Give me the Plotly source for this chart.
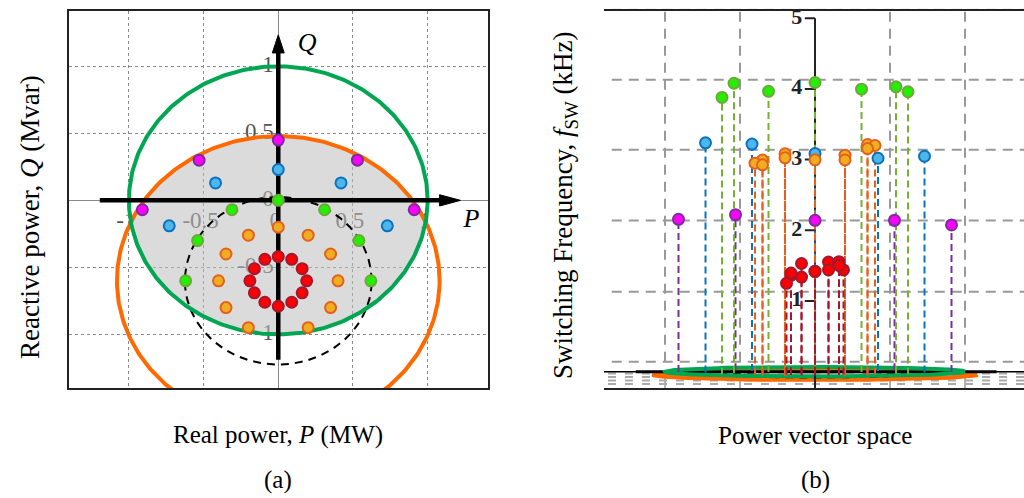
import numpy as np
import plotly.graph_objects as go

W, H = 1024, 498
SERIF = "Liberation Serif"

# ---------------- operating points (P in MW, Q in Mvar, switching frequency in kHz)
MAG_P = [-0.91, -0.53, 0.0, 0.53, 0.91]
MAG_Q = [-0.07, 0.30, 0.45, 0.30, -0.07]
MAG_F = [2.16, 2.20, 2.11, 2.12, 2.08]

BLUE_P = [-0.73, -0.42, 0.0, 0.42, 0.73]
BLUE_Q = [-0.19, 0.13, 0.23, 0.13, -0.19]
BLUE_F = [3.25, 3.21, 3.07, 3.01, 3.06]

GREEN_P = [-0.62, -0.54, -0.31, 0.0, 0.31, 0.54, 0.62]
GREEN_Q = [-0.60, -0.30, -0.07, 0.0, -0.07, -0.30, -0.60]
GREEN_F = [3.92, 4.10, 3.97, 4.09, 4.00, 4.05, 4.00]

ORANGE_P = [0.0, -0.2, 0.2, -0.35, 0.35, -0.4, 0.4, -0.35, 0.35, -0.2, 0.2]
ORANGE_Q = [-0.20, -0.26, -0.26, -0.40, -0.40, -0.60, -0.60, -0.80, -0.80, -0.95, -0.95]
ORANGE_F = [3.01, 3.10, 3.08, 3.02, 3.24, 2.99, 3.24, 2.98, 3.21, 3.09, 3.06]

RED_P = [0.0, 0.09, 0.16, 0.19, 0.16, 0.09, 0.0, -0.09, -0.16, -0.19, -0.16, -0.09]
RED_Q = [-0.42, -0.44, -0.51, -0.60, -0.69, -0.76, -0.79, -0.76, -0.69, -0.60, -0.51, -0.44]
RED_F = [1.45, 1.58, 1.59, 1.48, 1.55, 1.49, 1.47, 1.39, 1.41, 1.29, 1.43, 1.56]

# capability boundaries: (centre P, centre Q, radius)
GREEN_CIRCLE = (0.0, 0.0, 1.0)
ORANGE_CIRCLE = (0.0, -0.6, 1.08)
DASHED_CIRCLE = (0.0, -0.6, 0.625)

TICKS = [-1, -0.5, 0, 0.5, 1]
TICK_TEXT = ["-1", "-0.5", "0", "0.5", "1"]
F_TICKS = [1, 2, 3, 4, 5]
BACK_GRID = [0.14, 1.13, 2.14, 3.14, 4.13, 5.12]
SIDE_GRID = [-1.0, -0.5, 0.5, 1.0]
FLOOR_ROWS = [-0.025, -0.075, -0.125, -0.175]

TILT = 0.068  # vertical shift of the floor per unit Q in the power-vector view

GROUPS = [
    # P, Q, f, fill, edge, stem colour
    (MAG_P, MAG_Q, MAG_F, "#FF00FF", "#7A2E9A", "#7A2E9A"),
    (BLUE_P, BLUE_Q, BLUE_F, "#4DB6EA", "#0A72BE", "#0A72BE"),
    (GREEN_P, GREEN_Q, GREEN_F, "#22F000", "#6EA83A", "#76B032"),
    (ORANGE_P, ORANGE_Q, ORANGE_F, "#EFAE22", "#E4601C", "#E4601C"),
    (RED_P, RED_Q, RED_F, "#FF0000", "#A3182E", "#A3182E"),
]

GREEN_LINE = "#00A651"
ORANGE_LINE = "#FF6A00"


def circle(c, n=361):
    cx, cy, r = c
    t = np.linspace(0, 2 * np.pi, n)
    return cx + r * np.cos(t), cy + r * np.sin(t)


def inside(x, y, c):
    cx, cy, r = c
    return (x - cx) ** 2 + (y - cy) ** 2 <= r ** 2 + 1e-12


# overlap of the two capability discs
gx, gy = circle(GREEN_CIRCLE)
ox, oy = circle(ORANGE_CIRCLE)
ix = np.concatenate([ox[inside(ox, oy, GREEN_CIRCLE)], gx[inside(gx, gy, ORANGE_CIRCLE)]])
iy = np.concatenate([oy[inside(ox, oy, GREEN_CIRCLE)], gy[inside(gx, gy, ORANGE_CIRCLE)]])
order = np.argsort(np.arctan2(iy + 0.3, ix))
ix, iy = ix[order], iy[order]
ix = np.append(ix, ix[0])
iy = np.append(iy, iy[0])
dx, dy = circle(DASHED_CIRCLE)

fig = go.Figure()

# ======================= (a) PQ plane =======================
A = dict(xaxis="x", yaxis="y")
tick_font = dict(family=SERIF, size=23, color="#555")
fig.add_trace(go.Scatter(x=[t - 0.02 for t in TICKS], y=[-0.16] * 5, mode="text", text=TICK_TEXT,
                         textposition="middle center", textfont=tick_font, hoverinfo="skip", **A))
fig.add_trace(go.Scatter(x=[-0.03] * 5, y=TICKS, mode="text", text=TICK_TEXT, textposition="middle left",
                         textfont=tick_font, hoverinfo="skip", **A))
fig.add_trace(go.Scatter(x=ix, y=iy, mode="lines", fill="toself", fillcolor="rgba(190,190,190,0.55)",
                         line=dict(width=0), hoverinfo="skip", **A))
fig.add_trace(go.Scatter(x=dx, y=dy, mode="lines", line=dict(color="black", width=2, dash="8px,6px"), **A))
fig.add_trace(go.Scatter(x=ox, y=oy, mode="lines", line=dict(color=ORANGE_LINE, width=4), **A))
fig.add_trace(go.Scatter(x=gx, y=gy, mode="lines", line=dict(color=GREEN_LINE, width=4), **A))

# coordinate arrows
P_AX = (-1.195, 1.08, 1.22)   # start, arrow base, arrow tip
Q_AX = (-1.19, 1.10, 1.235)
fig.add_trace(go.Scatter(x=[P_AX[0], P_AX[1]], y=[0, 0], mode="lines", line=dict(color="black", width=4.5), **A))
fig.add_trace(go.Scatter(x=[0, 0], y=[Q_AX[0], Q_AX[1]], mode="lines", line=dict(color="black", width=4.5), **A))
fig.add_trace(go.Scatter(x=[P_AX[1], P_AX[2], P_AX[1], P_AX[1]], y=[0.042, 0, -0.042, 0.042], mode="lines",
                         fill="toself", fillcolor="black", line=dict(color="black", width=1), **A))
fig.add_trace(go.Scatter(x=[-0.04, 0, 0.04, -0.04], y=[Q_AX[1], Q_AX[2], Q_AX[1], Q_AX[1]], mode="lines",
                         fill="toself", fillcolor="black", line=dict(color="black", width=1), **A))

for p, q, f, fill, edge, stem in GROUPS:
    fig.add_trace(go.Scatter(x=p, y=q, mode="markers",
                             marker=dict(size=11, color=fill, line=dict(color=edge, width=2)), **A))

fig.add_trace(go.Scatter(x=[1.24, 0.13], y=[-0.15, 1.16], mode="text", text=["<i>P</i>", "<i>Q</i>"],
                         textposition="middle right", textfont=dict(family=SERIF, size=26, color="black"), **A))

# ======================= (b) power vector space =======================
B = dict(xaxis="x2", yaxis="y2")
fig.add_trace(go.Scatter(x=ix, y=TILT * iy, mode="lines", fill="toself", fillcolor="rgba(190,190,190,0.55)",
                         line=dict(width=0), hoverinfo="skip", **B))
fig.add_trace(go.Scatter(x=ox, y=TILT * oy, mode="lines", line=dict(color=ORANGE_LINE, width=4.5), **B))
fig.add_trace(go.Scatter(x=dx, y=TILT * dy, mode="lines", line=dict(color="black", width=2, dash="8px,6px"), **B))
fig.add_trace(go.Scatter(x=[P_AX[0], 1.21], y=[0, 0], mode="lines", line=dict(color="black", width=3), **B))
fig.add_trace(go.Scatter(x=gx, y=TILT * gy, mode="lines", line=dict(color=GREEN_LINE, width=4), **B))

# frequency axis with ticks
fig.add_trace(go.Scatter(x=[0, 0], y=[-0.3, 5], mode="lines", line=dict(color="#222", width=2), **B))
tx, ty = [], []
for v in F_TICKS:
    tx += [-0.068, 0, None]
    ty += [v, v, None]
fig.add_trace(go.Scatter(x=tx, y=ty, mode="lines", line=dict(color="#222", width=2), **B))
fig.add_trace(go.Scatter(x=[-0.085] * 5, y=F_TICKS, mode="text", text=[f"<b>{v}</b>" for v in F_TICKS],
                         textposition="middle left",
                         textfont=dict(family=SERIF, size=22, color="#222"), **B))

for p, q, f, fill, edge, stem in GROUPS:
    sx, sy = [], []
    for pi, qi, fi in zip(p, q, f):
        sx += [pi, pi, None]
        sy += [TILT * qi, fi + TILT * qi, None]
    fig.add_trace(go.Scatter(x=sx, y=sy, mode="lines", line=dict(color=stem, width=2, dash="7px,4px"), **B))
for p, q, f, fill, edge, stem in GROUPS:
    fig.add_trace(go.Scatter(x=p, y=[fi + TILT * qi for qi, fi in zip(q, f)], mode="markers",
                             marker=dict(size=11, color=fill, line=dict(color=edge, width=2)), **B))

# back-wall / floor grid of the 3-D view
shapes = []
for g in BACK_GRID:
    shapes.append(dict(type="line", xref="x2", yref="y2", x0=-1.355, x1=1.4, y0=g, y1=g, layer="below",
                       line=dict(color="#999", width=2, dash="10px,7px")))
for s in SIDE_GRID:
    shapes.append(dict(type="line", xref="x2", yref="y2", x0=s, x1=s, y0=BACK_GRID[0], y1=BACK_GRID[-1],
                       layer="below", line=dict(color="#999", width=2, dash="10px,7px")))
    shapes.append(dict(type="line", xref="x2", yref="y2", x0=s, x1=s, y0=-0.25, y1=0, layer="below",
                       line=dict(color="#999", width=1.5)))
for r in FLOOR_ROWS:
    shapes.append(dict(type="line", xref="x2", yref="y2", x0=-1.38, x1=1.4, y0=r, y1=r, layer="below",
                       line=dict(color="#aaa", width=2, dash="8px,9px")))
shapes.append(dict(type="line", xref="x2", yref="y2", x0=-1.41, x1=1.4, y0=0, y1=0, layer="below",
                   line=dict(color="black", width=1.5)))

ann = [
    dict(x=278 / W, y=1 - 435 / H, text="Real power, <i>P</i> (MW)", size=25),
    dict(x=815 / W, y=1 - 435 / H, text="Power vector space", size=25),
    dict(x=278 / W, y=1 - 480 / H, text="(a)", size=25),
    dict(x=815 / W, y=1 - 480 / H, text="(b)", size=25),
    dict(x=30 / W, y=1 - 217 / H, text="Reactive power, <i>Q</i> (Mvar)", textangle=-90, size=27),
    dict(x=565 / W, y=1 - 205 / H, text="Switching Frequency, <i>f</i><sub>SW</sub> (kHz)", textangle=-90,
         size=27),
]
for a in ann:
    size = a.pop("size")
    a.update(xref="paper", yref="paper", showarrow=False, xanchor="center", yanchor="middle",
             font=dict(family=SERIF, size=size, color="black"))

fig.update_layout(
    width=W, height=H, margin=dict(l=0, r=0, t=0, b=0),
    paper_bgcolor="white", plot_bgcolor="white", showlegend=False,
    shapes=shapes, annotations=ann,
    xaxis=dict(domain=[68.7 / W, 487.7 / W], range=[-1.403, 1.402], dtick=0.5, tick0=0,
               showgrid=True, gridcolor="#8a8a8a", griddash="dot", gridwidth=1,
               zeroline=True, zerolinecolor="#8a8a8a", zerolinewidth=1,
               showticklabels=False, ticks="", showline=True, mirror=True, linecolor="#222", linewidth=1.5),
    yaxis=dict(domain=[1 - 388 / H, 1 - 11 / H], range=[-1.40, 1.413], dtick=0.5, tick0=0,
               showgrid=True, gridcolor="#8a8a8a", griddash="dot", gridwidth=1,
               zeroline=True, zerolinecolor="#8a8a8a", zerolinewidth=1,
               showticklabels=False, ticks="", showline=True, mirror=True, linecolor="#222", linewidth=1.5),
    xaxis2=dict(domain=[604 / W, 1.0], range=[-1.4067, 1.3933], showgrid=False, zeroline=False,
                showticklabels=False, ticks="", showline=True, mirror=True, linecolor="#222", linewidth=1.5),
    yaxis2=dict(domain=[1 - 388.3 / H, 1 - 8.5 / H], range=[-0.235, 5.137], showgrid=False, zeroline=False,
                showticklabels=False, ticks="", showline=True, mirror=False, linecolor="#222", linewidth=1.5),
)

fig.write_html("out.html")
